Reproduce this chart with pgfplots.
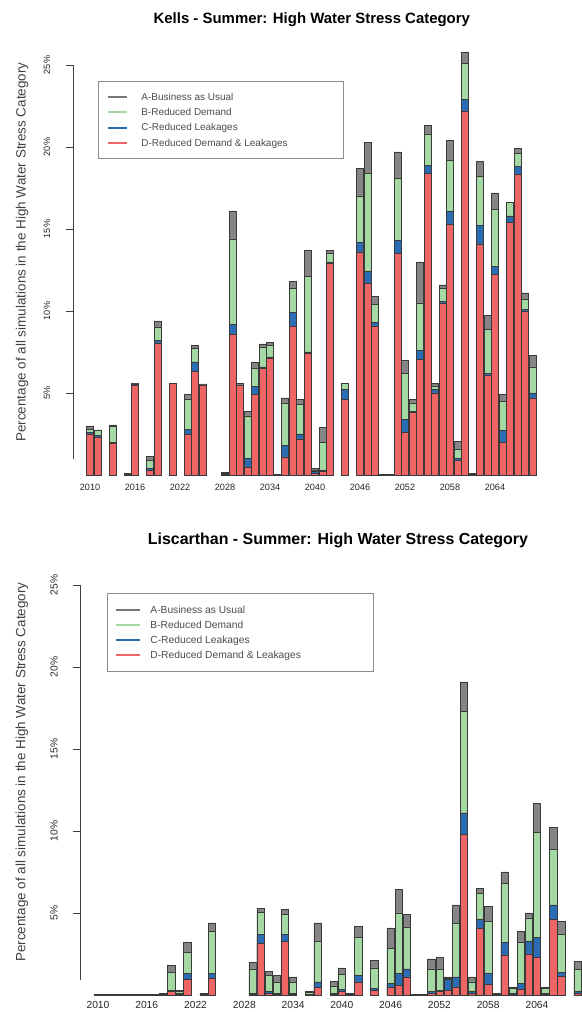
\documentclass[border=0pt]{standalone}
\usepackage{fontspec}
\setmainfont{Liberation Sans}
\usepackage{pgfplots}
\usepackage{pgfplotstable}
\pgfplotsset{compat=1.18}

\definecolor{colA}{HTML}{858585}
\definecolor{colB}{HTML}{A4D9A4}
\definecolor{colC}{HTML}{2A6DB5}
\definecolor{colD}{HTML}{EF6464}
\definecolor{edge}{HTML}{3A3A3A}

% Kells: share of simulations (%) in the high stress category, per scenario
\pgfplotstableread{
year A B C D
2010 3.0 2.8 2.6 2.5
2011 2.75 2.7 2.4 2.3
2012 nan nan nan nan
2013 3.05 2.95 2.0 1.95
2014 nan nan nan nan
2015 0.1 0.1 0.05 0.05
2016 5.6 5.55 5.5 5.45
2017 nan nan nan nan
2018 1.15 0.9 0.4 0.3
2019 9.4 9.0 8.2 8.05
2020 nan nan nan nan
2021 5.6 5.6 5.6 5.6
2022 nan nan nan nan
2023 4.9 4.6 2.8 2.5
2024 7.9 7.7 6.9 6.3
2025 5.55 5.5 5.5 5.5
2026 nan nan nan nan
2027 nan nan nan nan
2028 0.15 0.1 0.05 0.05
2029 16.1 14.4 9.2 8.6
2030 5.6 5.5 5.5 5.5
2031 3.9 3.6 1.0 0.5
2032 6.9 6.5 5.4 4.9
2033 8.0 7.8 6.6 6.5
2034 8.1 7.9 7.2 7.1
2035 0.05 0.05 0.05 0.05
2036 4.7 4.4 1.8 1.1
2037 11.8 11.4 9.9 9.1
2038 4.6 4.3 2.5 2.2
2039 13.7 12.1 7.5 7.4
2040 0.4 0.3 0.2 0.1
2041 2.9 2.0 0.3 0.2
2042 13.7 13.5 13.0 12.9
2043 nan nan nan nan
2044 5.6 5.6 5.2 4.6
2045 nan nan nan nan
2046 18.7 17.0 14.2 13.6
2047 20.3 18.4 12.4 11.7
2048 10.9 10.4 9.3 9.1
2049 0.05 0.05 0.05 0.05
2050 0.05 0.05 0.05 0.05
2051 19.7 18.1 14.3 13.5
2052 7.0 6.2 3.4 2.6
2053 4.6 4.4 3.9 3.8
2054 13.0 10.5 7.6 7.05
2055 21.3 20.8 18.9 18.4
2056 5.6 5.4 5.2 5.0
2057 11.6 11.4 10.6 10.5
2058 20.4 19.2 16.1 15.3
2059 2.05 1.6 1.0 0.9
2060 25.8 25.1 22.9 22.2
2061 0.1 0.05 0.05 0.05
2062 19.1 18.2 15.2 14.1
2063 9.75 8.9 6.2 6.1
2064 17.2 16.2 12.7 12.25
2065 4.9 4.5 2.7 2.0
2066 16.6 16.6 15.8 15.4
2067 19.9 19.6 18.8 18.35
2068 11.1 10.7 10.1 10.0
2069 7.3 6.6 5.0 4.7
}\kells

% Liscarthan
\pgfplotstableread{
year A B C D
2010 0.05 0.05 0.05 0.05
2011 0.05 0.05 0.05 0.05
2012 0.05 0.05 0.05 0.05
2013 0.05 0.05 0.05 0.05
2014 0.05 0.05 0.05 0.05
2015 0.05 0.05 0.05 0.05
2016 0.05 0.05 0.05 0.05
2017 0.05 0.05 0.05 0.05
2018 0.1 0.05 0.05 0.05
2019 1.8 1.4 0.3 0.2
2020 0.3 0.2 0.1 0.05
2021 3.2 2.6 1.3 0.95
2022 nan nan nan nan
2023 0.1 0.05 0.05 0.05
2024 4.4 3.9 1.3 1.05
2025 nan nan nan nan
2026 nan nan nan nan
2027 nan nan nan nan
2028 nan nan nan nan
2029 2.0 1.6 0.1 0.05
2030 5.3 5.05 3.7 3.15
2031 1.45 1.2 0.2 0.1
2032 1.2 0.8 0.1 0.05
2033 5.2 4.9 3.7 3.25
2034 1.1 0.75 0.1 0.05
2035 nan nan nan nan
2036 0.2 0.15 0.05 0.05
2037 4.4 3.3 0.8 0.45
2038 nan nan nan nan
2039 0.85 0.55 0.1 0.05
2040 1.65 1.25 0.35 0.2
2041 0.1 0.05 0.05 0.05
2042 4.2 3.5 1.2 0.8
2043 nan nan nan nan
2044 2.1 1.65 0.4 0.3
2045 nan nan nan nan
2046 4.1 2.85 0.7 0.5
2047 6.45 5.0 1.3 0.6
2048 4.9 4.15 1.6 1.1
2049 0.05 0.05 0.05 0.05
2050 0.05 0.05 0.05 0.05
2051 2.2 1.55 0.2 0.1
2052 2.3 1.6 0.3 0.2
2053 1.1 1.0 0.95 0.3
2054 5.5 4.4 1.1 0.5
2055 19.1 17.3 11.1 9.8
2056 1.1 0.8 0.2 0.1
2057 6.5 6.2 4.6 4.1
2058 5.4 4.5 1.3 0.65
2059 0.1 0.05 0.05 0.05
2060 7.5 6.8 3.2 2.45
2061 0.5 0.4 0.1 0.05
2062 3.9 3.2 0.7 0.35
2063 5.0 4.7 3.3 2.5
2064 11.7 9.9 3.5 2.3
2065 0.5 0.4 0.1 0.05
2066 10.2 8.9 5.5 4.6
2067 4.5 3.7 1.4 1.15
2068 nan nan nan nan
2069 2.05 1.55 0.2 0.1
}\lisc

\pgfplotsset{
  stress/.style={
    scale only axis,
    height=434.6bp,
    ymin=0, ymax=26.5,
    ybar,
    clip=false,
    axis line style={draw=none},
    ytick={5,10,15,20,25},
    yticklabels={5\%,10\%,15\%,20\%,25\%},
    ytick pos=left,
    tick align=outside,
    major tick length=7bp,
    ytick style={draw=black!75, line width=0.6bp},
    xtick={2010,2016,...,2064},
    xticklabels={2010,2016,2022,2028,2034,2040,2046,2052,2058,2064},
    xtick style={draw=none},
    xticklabel style={anchor=center, text=black!85},
    yticklabel style={anchor=center, xshift=-19bp, rotate=90, text=black!85},
    ylabel={Percentage of all simulations in the High Water Stress Category},
    ylabel style={anchor=center, text=black!75, font=\fontsize{13.5}{15}\selectfont},
    title style={anchor=center},
    legend cell align=left,
    legend style={anchor=north west, draw=black!45, line width=0.8bp,
      text=black!70, inner ysep=8.5bp,
      nodes={inner ysep=2.6bp, inner xsep=3.3bp}},
  },
  scen/.style n args={3}{bar width=0.9, bar shift=0pt, fill=#1, draw=edge, line width=0.5bp,
    legend image code/.code={\draw[#2, line width=2bp] (0bp,0bp) -- (#3,0bp);}},
}

\begin{document}
\begin{tikzpicture}
\useasboundingbox (0,0) rectangle (582bp,1012bp);

% Kells
\begin{axis}[stress,
  at={(73bp,537bp)}, anchor=south west,
  width=472bp, xmin=2007.73, xmax=2070.67,
  tick label style={font=\fontsize{9.2}{11}\selectfont},
  xticklabel style={yshift=-5bp},
  title={Kells - Summer: High Water Stress Category},
  title style={at={(0.506,1.033)}, font=\bfseries\fontsize{15}{17}\selectfont},
  ylabel style={at={(-0.108,0.513)}},
  legend style={at={(0.053,0.9066)}, font=\fontsize{10}{12}\selectfont,
    inner xsep=8.7bp, column sep=10bp},
]
\addplot[scen={colA}{colA!90!black}{19bp}] table[x=year, y=A] {\kells};
\addlegendentry{\makebox[190bp][l]{\strut A-Business as Usual}}
\addplot[scen={colB}{colB}{19bp}] table[x=year, y=B] {\kells};
\addlegendentry{\makebox[190bp][l]{\strut B-Reduced Demand}}
\addplot[scen={colC}{colC}{19bp}] table[x=year, y=C] {\kells};
\addlegendentry{\makebox[190bp][l]{\strut C-Reduced Leakages}}
\addplot[scen={colD}{colD}{19bp}] table[x=year, y=D] {\kells};
\addlegendentry{\makebox[190bp][l]{\strut D-Reduced Demand \& Leakages}}
\draw[black!75, line width=0.6bp] (axis cs:2007.73,1) -- (axis cs:2007.73,25);
\end{axis}

% Liscarthan
\begin{axis}[stress,
  at={(80bp,17bp)}, anchor=south west,
  width=509.8bp, xmin=2007.79, xmax=2070.5,
  tick label style={font=\fontsize{10.3}{12}\selectfont},
  xticklabel style={yshift=-3bp},
  title={Liscarthan - Summer: High Water Stress Category},
  title style={at={(0.506,1.033)}, font=\bfseries\fontsize{16}{18}\selectfont},
  ylabel style={at={(-0.114,0.513)}},
  legend style={at={(0.053,0.925)}, font=\fontsize{10.3}{12.3}\selectfont,
    inner xsep=7.7bp, column sep=6bp},
]
\addplot[scen={colA}{colA!90!black}{24bp}] table[x=year, y=A] {\lisc};
\addlegendentry{\makebox[212bp][l]{\strut A-Business as Usual}}
\addplot[scen={colB}{colB}{24bp}] table[x=year, y=B] {\lisc};
\addlegendentry{\makebox[212bp][l]{\strut B-Reduced Demand}}
\addplot[scen={colC}{colC}{24bp}] table[x=year, y=C] {\lisc};
\addlegendentry{\makebox[212bp][l]{\strut C-Reduced Leakages}}
\addplot[scen={colD}{colD}{24bp}] table[x=year, y=D] {\lisc};
\addlegendentry{\makebox[212bp][l]{\strut D-Reduced Demand \& Leakages}}
\draw[black!75, line width=0.6bp] (axis cs:2007.79,0.9) -- (axis cs:2007.79,25);
\end{axis}
\end{tikzpicture}
\end{document}
